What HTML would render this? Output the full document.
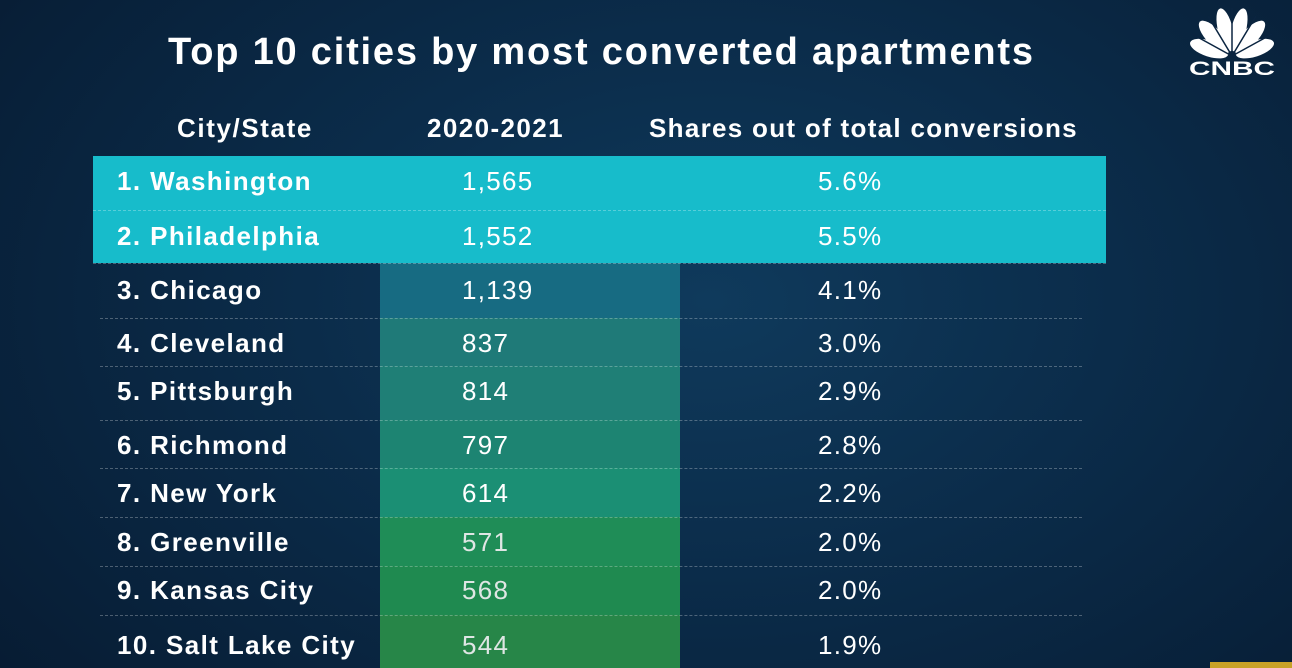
<!DOCTYPE html>
<html><head><meta charset="utf-8">
<style>
html,body{margin:0;padding:0}
body{width:1292px;height:668px;overflow:hidden;position:relative;font-family:"Liberation Sans",sans-serif;color:#fff;
background:radial-gradient(ellipse 70% 90% at 55% 45%,#0f3a5c 0%,#0b2c4a 45%,#071c33 100%);}
.abs{position:absolute}
.t{position:absolute;white-space:nowrap;line-height:1}
</style></head>
<body>
<div class="t" style="left:168px;top:33px;font-size:38px;font-weight:bold;letter-spacing:1.8px;">Top 10 cities by most converted apartments</div>
<svg class="abs" style="left:1186px;top:6px" width="92" height="72" viewBox="0 0 92 72">
 <g fill="#fff">
  <ellipse cx="46" cy="26" rx="8" ry="20" transform="rotate(-72 46 50)"/>
  <ellipse cx="46" cy="24" rx="8" ry="21" transform="rotate(-43 46 50)"/>
  <ellipse cx="46" cy="23" rx="7.5" ry="22" transform="rotate(-14 46 50)"/>
  <ellipse cx="46" cy="23" rx="7.5" ry="22" transform="rotate(14 46 50)"/>
  <ellipse cx="46" cy="24" rx="8" ry="21" transform="rotate(43 46 50)"/>
  <ellipse cx="46" cy="26" rx="8" ry="20" transform="rotate(72 46 50)"/>
 </g>
 <g stroke="#0a2440" stroke-width="1.5">
  <line x1="46" y1="50" x2="46" y2="2"/>
  <line x1="46" y1="50" x2="22" y2="10"/>
  <line x1="46" y1="50" x2="70" y2="10"/>
  <line x1="46" y1="50" x2="6" y2="28"/>
  <line x1="46" y1="50" x2="86" y2="28"/>
 </g>
 <rect x="0" y="51" width="92" height="21" fill="#0a2440" opacity="0"/>
 <text x="3" y="69" textLength="86" lengthAdjust="spacingAndGlyphs" font-family="Liberation Sans" font-weight="bold" font-size="19" fill="#fff">CNBC</text>
</svg>
<div class="abs" style="left:1210px;top:662px;width:82px;height:6px;background:#c9a227"></div>
<div class="t" style="left:177px;top:115px;font-size:26px;font-weight:bold;letter-spacing:1.6px">City/State</div>
<div class="t" style="left:427px;top:115px;font-size:26px;font-weight:bold;letter-spacing:1.4px">2020-2021</div>
<div class="t" style="left:649px;top:115px;font-size:26px;font-weight:bold;letter-spacing:1.3px">Shares out of total conversions</div>
<div id="tbl"></div>
<script>
const cities=["1. Washington","2. Philadelphia","3. Chicago","4. Cleveland","5. Pittsburgh","6. Richmond","7. New York","8. Greenville","9. Kansas City","10. Salt Lake City"];
const values=["1,565","1,552","1,139","837","814","797","614","571","568","544"];
const shares=["5.6%","5.5%","4.1%","3.0%","2.9%","2.8%","2.2%","2.0%","2.0%","1.9%"];
const tbl=document.getElementById('tbl');
const centers=[181,236,290,343,391,445,493,542,590,645];
const bounds=[156,210,263,318,366,420,468,517,566,615,668];
const colColors=["#1fc3cf","#1fc3cf","#176b82","#1f7a78","#1f7f76","#1d8472","#1b8f74","#1f8d57","#1f8a50","#278648"];
function add(css,txt){const d=document.createElement('div');d.className=txt!==undefined?'t':'abs';d.style.cssText=css;if(txt!==undefined)d.textContent=txt;tbl.appendChild(d);return d;}
let hb=add('left:93px;top:156px;width:1013px;height:107px;background:#17bccb;');


for(let i=2;i<cities.length;i++){
 const c=add('left:380px;top:'+bounds[i]+'px;width:300px;height:'+(bounds[i+1]-bounds[i])+'px;background:'+colColors[i]+';');
 
 
}
for(let i=1;i<cities.length;i++){
 const left=i<=2?93:100, w=i<=2?1013:982;
 const s=add('left:'+left+'px;top:'+bounds[i]+'px;width:'+w+'px;height:0;border-top:1px dashed rgba(255,255,255,0.28);');
 
 
}
for(let i=0;i<cities.length;i++){
 const y=centers[i]-13;
 const a=add('left:117px;top:'+y+'px;font-size:26px;font-weight:bold;letter-spacing:1.4px;',cities[i]);
 
 
 const b=add('left:462px;top:'+y+'px;font-size:26px;letter-spacing:1.3px;color:'+(i>=7?'#dfe6e4':'#fff')+';',values[i]);
 
 
 const c=add('left:818px;top:'+y+'px;font-size:26px;letter-spacing:1.3px;',shares[i]);
 
 
}
</script>
</body></html>
